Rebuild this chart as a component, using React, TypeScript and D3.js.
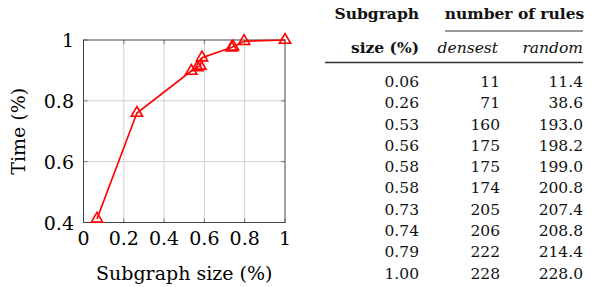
import React, { useRef, useEffect } from "react";
import * as d3 from "d3";

// plot data
const subgraphSize = [0.067, 0.265, 0.535, 0.565, 0.58, 0.588, 0.735, 0.742, 0.797, 1.0];
const timeShare = [0.412, 0.76, 0.898, 0.91, 0.915, 0.942, 0.975, 0.978, 0.996, 1.0];
const xTicks = [0, 0.2, 0.4, 0.6, 0.8, 1];
const yTicks = [0.4, 0.6, 0.8, 1];

// table data
const tableSize = ["0.06", "0.26", "0.53", "0.56", "0.58", "0.58", "0.73", "0.74", "0.79", "1.00"];
const rulesDensest = ["11", "71", "160", "175", "175", "174", "205", "206", "222", "228"];
const rulesRandom = ["11.4", "38.6", "193.0", "198.2", "199.0", "200.8", "207.4", "208.8", "214.4", "228.0"];

const W = 591;
const H = 287;
const FONT = "DejaVu Serif";

const App: React.FC = () => {
	const svgRef = useRef<SVGSVGElement | null>(null);

	useEffect(() => {
		if (!svgRef.current) return;
		const svg = d3.select(svgRef.current);
		svg.selectAll("*").remove();

		const left = 83.5;
		const right = 285;
		const top = 40;
		const bottom = 222.5;

		const x = d3.scaleLinear().domain([0, 1]).range([left, right]);
		const y = d3.scaleLinear().domain([0.4, 1]).range([bottom, top]);

		const plot = svg.append("g");

		// grid
		plot.selectAll("line.gx")
			.data(xTicks.slice(1, -1))
			.enter()
			.append("line")
			.attr("x1", (d) => x(d))
			.attr("x2", (d) => x(d))
			.attr("y1", top)
			.attr("y2", bottom)
			.attr("stroke", "#d0d0d0")
			.attr("stroke-width", 1);
		plot.selectAll("line.gy")
			.data(yTicks.slice(1, -1))
			.enter()
			.append("line")
			.attr("x1", left)
			.attr("x2", right)
			.attr("y1", (d) => y(d))
			.attr("y2", (d) => y(d))
			.attr("stroke", "#d0d0d0")
			.attr("stroke-width", 1);

		// tick marks inside frame
		xTicks.forEach((t) => {
			plot.append("line").attr("x1", x(t)).attr("x2", x(t)).attr("y1", bottom).attr("y2", bottom - 4).attr("stroke", "#777");
			plot.append("line").attr("x1", x(t)).attr("x2", x(t)).attr("y1", top).attr("y2", top + 4).attr("stroke", "#777");
		});
		yTicks.forEach((t) => {
			plot.append("line").attr("x1", left).attr("x2", left + 4).attr("y1", y(t)).attr("y2", y(t)).attr("stroke", "#777");
			plot.append("line").attr("x1", right).attr("x2", right - 4).attr("y1", y(t)).attr("y2", y(t)).attr("stroke", "#777");
		});

		// frame
		plot.append("rect")
			.attr("x", left)
			.attr("y", top)
			.attr("width", right - left)
			.attr("height", bottom - top)
			.attr("fill", "none")
			.attr("stroke", "#444")
			.attr("stroke-width", 1);

		// tick labels
		plot.selectAll("text.xt")
			.data(xTicks)
			.enter()
			.append("text")
			.attr("x", (d) => x(d))
			.attr("y", 245)
			.attr("text-anchor", "middle")
			.attr("font-family", FONT)
			.attr("font-size", 19)
			.text((d) => d3.format("~g")(d));
		plot.selectAll("text.yt")
			.data(yTicks)
			.enter()
			.append("text")
			.attr("x", 74)
			.attr("y", (d) => y(d) + 7)
			.attr("text-anchor", "end")
			.attr("font-family", FONT)
			.attr("font-size", 19)
			.text((d) => d3.format("~g")(d));

		// axis labels
		plot.append("text")
			.attr("x", (left + right) / 2)
			.attr("y", 280)
			.attr("text-anchor", "middle")
			.attr("font-family", FONT)
			.attr("font-size", 19)
			.text("Subgraph size (%)");
		plot.append("text")
			.attr("transform", `translate(25, ${(top + bottom) / 2}) rotate(-90)`)
			.attr("text-anchor", "middle")
			.attr("font-family", FONT)
			.attr("font-size", 19)
			.text("Time (%)");

		// line + markers
		const pts = subgraphSize.map((s, i) => [s, timeShare[i]] as [number, number]);
		const line = d3.line<[number, number]>().x((d) => x(d[0])).y((d) => y(d[1]));
		plot.append("path")
			.attr("d", line(pts) as string)
			.attr("fill", "none")
			.attr("stroke", "#ff0000")
			.attr("stroke-width", 1.6);
		const tri = d3.symbol().type(d3.symbolTriangle).size(55);
		plot.selectAll("path.mk")
			.data(pts)
			.enter()
			.append("path")
			.attr("d", tri() as string)
			.attr("transform", (d) => `translate(${x(d[0])}, ${y(d[1])})`)
			.attr("fill", "none")
			.attr("stroke", "#ff0000")
			.attr("stroke-width", 1.6);

		// table
		const tab = svg.append("g").attr("font-family", FONT).attr("font-size", 15.5).attr("fill", "#111");
		const c1 = 419;
		const c2 = 500;
		const c3 = 583;

		tab.append("text").attr("x", c1).attr("y", 19).attr("text-anchor", "end").attr("font-weight", "bold").text("Subgraph");
		tab.append("text").attr("x", (446 + 583) / 2).attr("y", 19).attr("text-anchor", "middle").attr("font-weight", "bold").text("number of rules");
		tab.append("line").attr("x1", 445).attr("x2", c3).attr("y1", 31).attr("y2", 31).attr("stroke", "#333").attr("stroke-width", 1);
		tab.append("text").attr("x", c1).attr("y", 53).attr("text-anchor", "end").attr("font-weight", "bold").text("size (%)");
		tab.append("text").attr("x", c2 - 2).attr("y", 53).attr("text-anchor", "end").attr("font-style", "italic").text("densest");
		tab.append("text").attr("x", c3).attr("y", 53).attr("text-anchor", "end").attr("font-style", "italic").text("random");
		tab.append("line").attr("x1", 325).attr("x2", c3).attr("y1", 62.5).attr("y2", 62.5).attr("stroke", "#333").attr("stroke-width", 1.4);

		const rowY = d3.scaleLinear().domain([0, tableSize.length - 1]).range([87, 278.5]);
		tableSize.forEach((s, i) => {
			tab.append("text").attr("x", c1).attr("y", rowY(i)).attr("text-anchor", "end").text(s);
			tab.append("text").attr("x", c2).attr("y", rowY(i)).attr("text-anchor", "end").text(rulesDensest[i]);
			tab.append("text").attr("x", c3).attr("y", rowY(i)).attr("text-anchor", "end").text(rulesRandom[i]);
		});
	}, []);

	return (
		<svg
			ref={svgRef}
			width={W}
			height={H}
			style={{ position: "absolute", left: 0, top: 0, background: "#fff" }}
		/>
	);
};

export default App;
